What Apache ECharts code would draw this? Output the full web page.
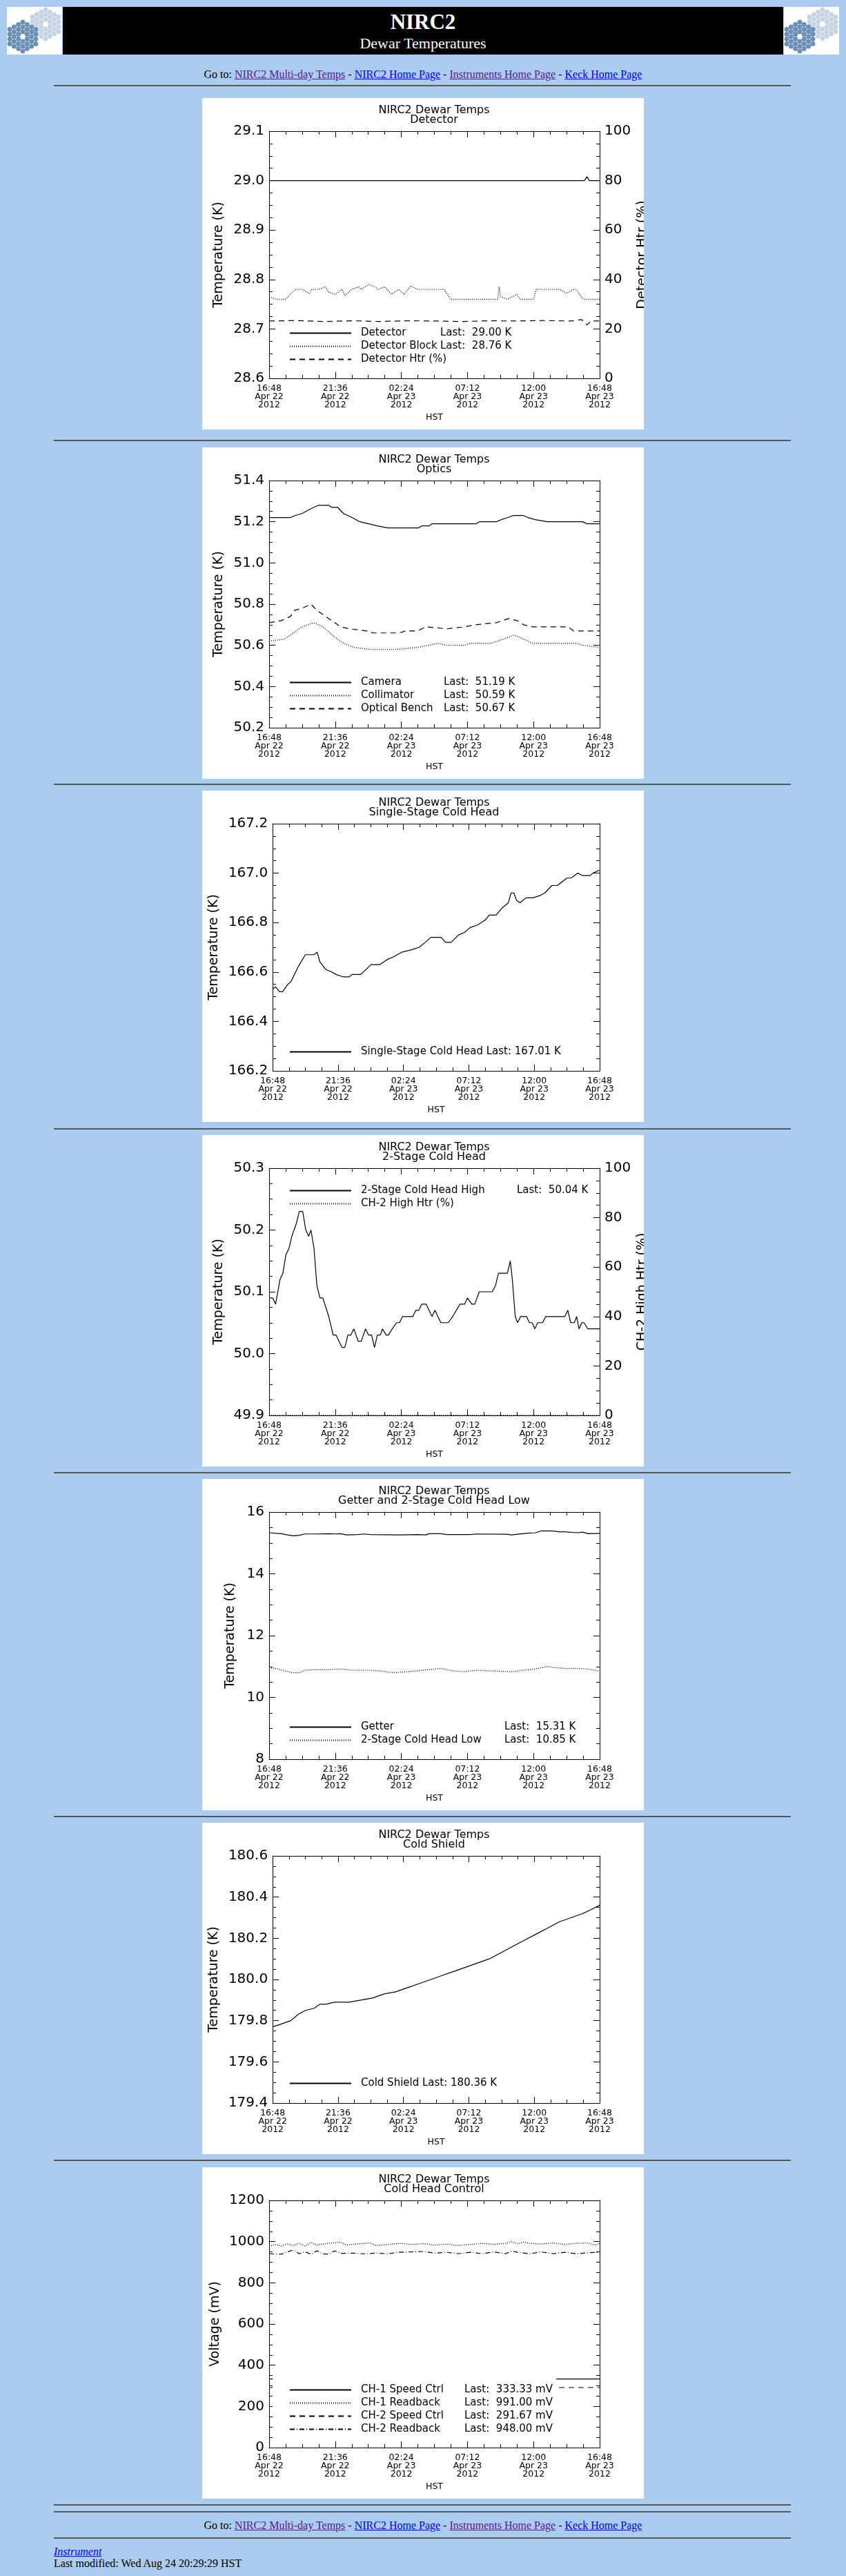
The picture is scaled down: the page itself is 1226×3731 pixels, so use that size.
<!DOCTYPE html>
<html>
<head>
<meta charset="utf-8">
<title>NIRC2 Dewar Temperatures</title>
<script src="https://cdn.jsdelivr.net/npm/echarts@6/dist/echarts.min.js"></script>
<style>
body { margin:0; background:#aaccee; font-family:"Liberation Serif", "Times New Roman", serif; font-size:16px; color:#000; }
#page { position:relative; width:1226px; height:3731px; overflow:hidden; }
.logo { position:absolute; top:10px; width:80px; height:69px; background:#fff; overflow:hidden; }
#bar { position:absolute; left:91px; top:10px; width:1044px; height:69px; background:#000; color:#fff; text-align:center; }
.hr { position:absolute; left:78px; width:1068px; height:0; border-top:2px solid #555; }
.nav { position:absolute; left:0; width:1226px; text-align:center; line-height:20px; }
a { text-decoration:underline; }
a.v { color:#551a8b; }
a.u { color:#0000ee; }
.panel { position:absolute; left:293px; width:640px; height:480px; background:#fff; }
</style>
</head>
<body>
<div id="page">
  <div class="logo" id="logoL" style="left:10px"></div>
  <div id="bar">
    <div style="position:absolute;left:0;top:4px;width:100%;font-size:31px;font-weight:bold;line-height:36px">NIRC2</div>
    <div style="position:absolute;left:0;top:40px;width:100%;font-size:22px;line-height:26px">Dewar Temperatures</div>
  </div>
  <div class="logo" id="logoR" style="left:1136px"></div>

  <div class="nav" style="top:98px">Go to: <a class="v" href="#">NIRC2 Multi-day Temps</a> - <a class="u" href="#">NIRC2 Home Page</a> - <a class="v" href="#">Instruments Home Page</a> - <a class="u" href="#">Keck Home Page</a></div>
  <div class="hr" style="top:123px"></div>

  <div class="panel" id="c1" style="top:142px"></div>
  <div class="hr" style="top:637px"></div>
  <div class="panel" id="c2" style="top:648px"></div>
  <div class="hr" style="top:1135px"></div>
  <div class="panel" id="c3" style="top:1145px"></div>
  <div class="hr" style="top:1634px"></div>
  <div class="panel" id="c4" style="top:1644px"></div>
  <div class="hr" style="top:2132px"></div>
  <div class="panel" id="c5" style="top:2142px"></div>
  <div class="hr" style="top:2630px"></div>
  <div class="panel" id="c6" style="top:2640px"></div>
  <div class="hr" style="top:3128px"></div>
  <div class="panel" id="c7" style="top:3139px"></div>
  <div class="hr" style="top:3627px"></div>
  <div class="hr" style="top:3637px"></div>

  <div class="nav" style="top:3648px">Go to: <a class="v" href="#">NIRC2 Multi-day Temps</a> - <a class="u" href="#">NIRC2 Home Page</a> - <a class="v" href="#">Instruments Home Page</a> - <a class="u" href="#">Keck Home Page</a></div>
  <div class="hr" style="top:3675px"></div>
  <div style="position:absolute;left:78px;top:3686px;line-height:20px"><a class="u" href="#"><i>Instrument</i></a></div>
  <div style="position:absolute;left:78px;top:3703px;line-height:20px">Last modified: Wed Aug 24 20:29:29 HST</div>
</div>

<script>
var FONT = 'DejaVu Sans';

// x axis: hours since 16:48 Apr 22 2012 (HST)
var timeLabels = ['16:48\nApr 22\n2012', '21:36\nApr 22\n2012', '02:24\nApr 23\n2012',
                  '07:12\nApr 23\n2012', '12:00\nApr 23\n2012', '16:48\nApr 23\n2012'];

// Detector
var detTime = [0, 22.9, 23.08, 23.25, 24];
var detVals = [29.00, 29.00, 29.008, 29.00, 29.00];
var blockTime = [0,0.5,1.2,1.7,1.9,2.4,2.9,3.1,3.6,4.1,4.3,4.8,5.3,5.5,6.0,6.5,6.7,7.2,7.7,7.9,8.4,8.9,9.4,9.8,10.3,10.8,12.7,13.2,16.6,16.7,16.8,17.3,18.0,18.2,19.2,19.4,21.1,21.6,22.1,22.3,22.8,24];
var blockVals = [28.765,28.76,28.76,28.775,28.78,28.78,28.772,28.78,28.78,28.785,28.775,28.77,28.78,28.767,28.78,28.785,28.78,28.79,28.785,28.78,28.785,28.77,28.78,28.77,28.787,28.78,28.78,28.76,28.76,28.785,28.765,28.76,28.77,28.76,28.76,28.78,28.78,28.772,28.78,28.78,28.76,28.76];
var htrTime = [0,2,4,6,8,10,12,14,16,18,20,22,22.7,23.07,23.4,24];
var htrVals = [23.2,23.4,23.0,23.3,23.0,23.3,23.2,23.0,23.3,23.2,23.4,23.2,23.8,21.6,23.2,23.2];

// Optics
var camTime = [0,1.54,1.86,2.4,2.94,3.26,3.58,4.33,4.54,4.97,5.4,6.04,6.58,7.22,7.86,8.61,10.86,11.08,11.6,11.83,15.04,15.26,16.5,16.86,17.3,17.7,18.47,18.8,19.33,20.19,22.76,23.08,24];
var camVals = [51.22,51.22,51.23,51.24,51.26,51.27,51.28,51.28,51.27,51.27,51.24,51.22,51.20,51.19,51.18,51.17,51.17,51.18,51.18,51.19,51.19,51.20,51.20,51.21,51.22,51.23,51.23,51.22,51.21,51.20,51.20,51.19,51.19];
var colTime = [0,1.11,1.76,2.4,3.26,3.9,4.76,5.4,6.15,7.33,9.26,10.76,11.6,12.26,12.9,14.2,14.6,16.1,17.0,17.8,18.5,19.1,22.3,22.76,24];
var colVals = [50.62,50.63,50.66,50.69,50.71,50.69,50.64,50.61,50.59,50.58,50.58,50.59,50.60,50.61,50.60,50.60,50.61,50.61,50.63,50.65,50.63,50.61,50.61,50.60,50.59];
var benchTime = [0,0.9,1.54,1.86,2.4,3.04,3.47,4.1,4.76,5.19,5.83,7.1,7.54,9.47,9.9,10.76,11.4,12.9,14.2,15.0,16.5,17.4,18.0,18.47,19.1,21.7,22.1,23.6,24];
var benchVals = [50.71,50.72,50.74,50.77,50.78,50.80,50.77,50.74,50.71,50.69,50.68,50.67,50.66,50.66,50.67,50.67,50.69,50.68,50.69,50.70,50.71,50.73,50.72,50.70,50.69,50.69,50.67,50.67,50.67];

// Single-Stage Cold Head
var sscTime = [0,0.21,0.51,0.73,1.11,1.33,1.86,2.4,3.04,3.26,3.47,3.9,4.33,4.65,5.19,5.61,5.83,6.47,7.22,7.86,8.4,8.83,9.47,10.2,10.76,11.2,11.6,12.36,12.69,13.1,13.65,14.08,14.5,15.04,15.6,15.9,16.4,16.86,17.3,17.5,17.7,17.9,18.15,18.6,19.1,19.65,19.97,20.5,20.9,21.6,21.9,22.4,22.76,23.3,23.5,23.9,24];
var sscVals = [166.53,166.54,166.52,166.52,166.55,166.56,166.62,166.67,166.67,166.68,166.64,166.61,166.60,166.59,166.58,166.58,166.59,166.59,166.63,166.63,166.65,166.66,166.68,166.69,166.70,166.72,166.74,166.74,166.72,166.72,166.75,166.76,166.78,166.79,166.81,166.83,166.83,166.86,166.88,166.92,166.92,166.89,166.88,166.90,166.90,166.91,166.92,166.95,166.95,166.98,166.98,167.00,166.99,166.99,167.00,167.01,167.01];

// 2-Stage Cold Head
var hiTime = [0,0.26,0.47,0.79,1.0,1.22,1.44,1.65,1.97,2.19,2.44,2.66,2.87,3.04,3.26,3.47,3.69,3.9,4.33,4.65,4.86,5.29,5.5,5.72,5.93,6.15,6.47,6.69,7.0,7.22,7.44,7.65,7.86,8.08,8.23,8.5,8.66,8.94,9.26,9.47,9.69,10.44,10.65,10.87,11.08,11.4,11.83,12.04,12.47,13.0,13.33,13.86,14.19,14.4,14.72,14.93,15.26,16.2,16.44,16.65,17.3,17.51,17.66,17.87,18.04,18.26,18.69,18.9,19.1,19.29,19.5,19.86,20.08,21.47,21.69,21.9,22.16,22.33,22.5,22.7,22.86,23.14,24];
var hiVals = [50.09,50.09,50.08,50.12,50.13,50.16,50.17,50.19,50.21,50.23,50.23,50.20,50.19,50.20,50.17,50.11,50.09,50.09,50.06,50.03,50.03,50.01,50.01,50.03,50.03,50.04,50.02,50.02,50.04,50.03,50.03,50.01,50.03,50.03,50.04,50.03,50.03,50.04,50.05,50.05,50.06,50.06,50.07,50.07,50.08,50.08,50.06,50.07,50.05,50.05,50.06,50.08,50.08,50.09,50.08,50.08,50.10,50.10,50.11,50.13,50.13,50.15,50.12,50.06,50.05,50.06,50.06,50.05,50.05,50.04,50.05,50.05,50.06,50.06,50.07,50.05,50.05,50.06,50.04,50.05,50.05,50.04,50.04];
var hiHtrTime = [0, 24];
var hiHtrVals = [0, 0];

// Getter and 2-Stage Cold Head Low
var getTime = [0,0.9,1.33,1.76,2.19,2.61,3.47,4.33,4.76,5.19,5.61,6.47,6.9,7.33,9.47,10.76,11.4,11.61,12.47,12.9,14.6,15.04,17.19,17.6,18.04,18.9,19.33,19.76,20.6,21.04,21.47,22.33,22.76,23.19,24];
var getVals = [15.33,15.30,15.26,15.23,15.25,15.29,15.29,15.30,15.29,15.30,15.26,15.27,15.29,15.27,15.26,15.27,15.26,15.30,15.30,15.27,15.27,15.29,15.28,15.26,15.28,15.32,15.33,15.39,15.39,15.36,15.36,15.33,15.35,15.30,15.31];
var lowTime = [0,0.47,1.11,1.76,2.19,2.61,3.47,4.33,5.19,6.04,7.33,8.19,9.04,9.9,10.76,11.61,12.47,13.33,14.19,15.04,15.9,16.76,17.61,18.47,19.33,20.19,20.61,21.47,22.33,23.19,24];
var lowVals = [10.95,10.94,10.86,10.80,10.80,10.88,10.90,10.90,10.92,10.88,10.88,10.85,10.80,10.83,10.86,10.90,10.94,10.86,10.83,10.88,10.86,10.85,10.83,10.88,10.92,11.00,10.97,10.94,10.94,10.92,10.85];

// Cold Shield
var csTime = [0,0.47,0.9,1.33,1.86,2.4,3.04,3.47,3.9,4.54,5.61,6.47,7.33,8.19,9.04,9.9,10.76,11.61,12.47,13.33,14.19,15.04,15.9,16.76,17.61,18.47,19.33,20.19,21.04,21.9,22.76,23.4,24];
var csVals = [179.77,179.78,179.79,179.80,179.83,179.85,179.86,179.88,179.88,179.89,179.89,179.90,179.91,179.93,179.94,179.96,179.98,180.00,180.02,180.04,180.06,180.08,180.10,180.13,180.16,180.19,180.22,180.25,180.28,180.30,180.32,180.34,180.36];

// Cold Head Control (mV)
var sp1Time = [0, 24];
var sp1Vals = [333.33, 333.33];
var rb1Time = [0,0.47,0.9,1.33,1.76,2.19,2.61,3.04,3.47,3.9,4.33,5.19,5.61,6.47,7.33,7.76,8.61,9.47,10.33,11.19,12.04,12.9,13.76,14.6,15.47,16.33,17.19,17.6,18.04,18.47,18.9,19.76,20.61,21.47,22.33,23.19,23.61,24];
var rb1Vals = [978,986,978,989,981,992,978,997,983,988,992,997,983,989,994,981,986,992,986,990,983,988,981,986,992,986,992,999,990,997,992,988,994,986,992,994,983,991];
var sp2Time = [0, 24];
var sp2Vals = [291.67, 291.67];
var rb2Time = [0,0.9,1.33,1.76,2.19,2.61,3.04,3.47,3.9,4.33,4.76,5.19,6.04,6.9,7.76,8.61,9.47,10.33,11.19,12.04,12.9,13.76,14.6,15.47,16.33,17.19,17.6,18.04,18.9,19.76,20.61,21.47,22.33,23.19,24];
var rb2Vals = [941,939,950,959,941,950,939,955,941,939,955,943,944,941,944,941,948,950,952,944,948,941,948,941,950,941,955,948,941,950,941,948,941,946,948];

var SOLID = 'solid', DOT = [1, 2], DASH = [8, 6], DASHDOT = [7, 3, 1, 3];

function pts(t, v) {
    return t.map(function (h, i) { return [h * 60, v[i]]; });
}

function logoSvg() {
    var s = '<svg width="80" height="69" xmlns="http://www.w3.org/2000/svg">';
    [[56, 25, '#c5d4e3'], [23, 43, '#6b8fb5']].forEach(function (c) {
        for (var q = -3; q <= 3; q++) {
            for (var r = -3; r <= 3; r++) {
                var d = Math.max(Math.abs(q), Math.abs(r), Math.abs(q + r));
                if (d < 1 || d > 3) continue;
                var x = c[0] + q * 6.3, y = c[1] + (r + q / 2) * 7;
                s += '<circle cx="' + x + '" cy="' + y + '" r="3.5" fill="' + c[2] + '"/>';
            }
        }
    });
    return s + '</svg>';
}
document.getElementById('logoL').innerHTML = logoSvg();
document.getElementById('logoR').innerHTML = logoSvg();

function yAxisOpt(min, max, step, dec, pos, showLabel, name, gap) {
    return {
        type: 'value', min: min, max: max, interval: step, position: pos,
        name: name || '', nameLocation: 'middle', nameGap: gap || 0, nameRotate: 90,
        nameTextStyle: { fontFamily: FONT, fontSize: 19, color: '#000' },
        axisLine: { show: true, onZero: false, lineStyle: { color: '#000', width: 1 } },
        axisTick: { show: true, inside: true, length: 9, lineStyle: { color: '#000' } },
        minorTick: { show: true, splitNumber: 4, length: 5, lineStyle: { color: '#000' } },
        axisLabel: {
            show: showLabel, fontFamily: FONT, fontSize: 20, color: '#000', margin: 7,
            formatter: function (v) { return v.toFixed(dec); }
        },
        splitLine: { show: false }
    };
}

function xAxisOpt(pos, showLabel) {
    return {
        type: 'value', min: 0, max: 1440, interval: 288, position: pos,
        name: showLabel ? 'HST' : '', nameLocation: 'middle', nameGap: 49,
        nameTextStyle: { fontFamily: FONT, fontSize: 12.5, color: '#000' },
        axisLine: { show: true, onZero: false, lineStyle: { color: '#000', width: 1 } },
        axisTick: { show: true, inside: true, length: 9, lineStyle: { color: '#000' } },
        minorTick: { show: true, splitNumber: 4, length: 5, lineStyle: { color: '#000' } },
        axisLabel: {
            show: showLabel, fontFamily: FONT, fontSize: 12.5, lineHeight: 12, color: '#000', margin: 9,
            formatter: function (v) { return timeLabels[Math.round(v / 288)]; }
        },
        splitLine: { show: false }
    };
}

function makeChart(id, c) {
    var chart = echarts.init(document.getElementById(id), null, { renderer: 'canvas' });
    var yAxes = [yAxisOpt(c.yMin, c.yMax, c.yStep, c.yDec, 'left', true, c.yName, c.nameGap)];
    var graphic = [];
    if (c.right) {
        yAxes.push(yAxisOpt(0, 100, 20, 0, 'right', true));
        // right-hand axis title, cut off by the image edge as in the original plot
        graphic.push({
            type: 'text', x: 638, y: 227, rotation: Math.PI / 2, silent: true,
            style: {
                text: c.right, fontFamily: FONT, fontSize: 19, fill: '#000',
                align: 'center', verticalAlign: 'middle', textAlign: 'center', textVerticalAlign: 'middle'
            }
        });
    } else {
        yAxes.push(yAxisOpt(c.yMin, c.yMax, c.yStep, c.yDec, 'right', false));
    }
    var rich = {
        n: { fontFamily: FONT, fontSize: 15, color: '#000' },
        l: { fontFamily: FONT, fontSize: 15, color: '#000' }
    };
    if (c.nameWidth) rich.n.width = c.nameWidth;
    if (c.lastWidth) rich.l.width = c.lastWidth;
    var legend = {
        orient: 'vertical', align: 'left', left: 126, top: c.legendTop,
        itemWidth: 89, itemHeight: 14, itemGap: 4, padding: 0, selectedMode: false,
        itemStyle: { opacity: 0, borderWidth: 0 },
        textStyle: { fontFamily: FONT, fontSize: 15, color: '#000', padding: [0, 0, 0, 9], rich: rich },
        formatter: function (name) {
            var last = c.last[name];
            if (!last) return name;
            if (!c.nameWidth) return name + ' ' + last;
            return '{n|' + name + '}{l|' + last + '}';
        }
    };
    if (c.legendBox) {
        legend.backgroundColor = '#fff';
        legend.padding = [15, 5, 9, 24];
        legend.left = 102;
        legend.top = c.legendTop - 15;
    }
    var option = {
        animation: false,
        title: {
            text: 'NIRC2 Dewar Temps\n' + c.sub, left: 336, top: 11, textAlign: 'center', padding: 0,
            textStyle: { fontFamily: FONT, fontSize: 16, fontWeight: 'normal', lineHeight: 14, color: '#000' }
        },
        grid: { left: 97, right: 64, top: 48, bottom: 74 },
        legend: legend,
        graphic: graphic,
        xAxis: [xAxisOpt('bottom', true), xAxisOpt('top', false)],
        yAxis: yAxes,
        series: c.series.map(function (s) {
            return {
                type: 'line', name: s.name, data: pts(s.t, s.v),
                xAxisIndex: 0, yAxisIndex: s.right ? 1 : 0,
                symbol: 'none', silent: true, color: '#000',
                lineStyle: { color: '#000', width: s.style === DOT ? 1.4 : 1.2, type: s.style }
            };
        })
    };
    chart.setOption(option);
}

makeChart('c1', {
    sub: 'Detector', yMin: 28.6, yMax: 29.1, yStep: 0.1, yDec: 1, yName: 'Temperature (K)', nameGap: 63,
    right: 'Detector Htr (%)', legendTop: 333, nameWidth: 115,
    last: { 'Detector': 'Last:  29.00 K', 'Detector Block': 'Last:  28.76 K' },
    series: [
        { name: 'Detector', t: detTime, v: detVals, style: SOLID },
        { name: 'Detector Block', t: blockTime, v: blockVals, style: DOT },
        { name: 'Detector Htr (%)', t: htrTime, v: htrVals, style: DASH, right: true }
    ]
});

makeChart('c2', {
    sub: 'Optics', yMin: 50.2, yMax: 51.4, yStep: 0.2, yDec: 1, yName: 'Temperature (K)', nameGap: 63,
    legendTop: 333, nameWidth: 120,
    last: { 'Camera': 'Last:  51.19 K', 'Collimator': 'Last:  50.59 K', 'Optical Bench': 'Last:  50.67 K' },
    series: [
        { name: 'Camera', t: camTime, v: camVals, style: SOLID },
        { name: 'Collimator', t: colTime, v: colVals, style: DOT },
        { name: 'Optical Bench', t: benchTime, v: benchVals, style: DASH }
    ]
});

makeChart('c3', {
    sub: 'Single-Stage Cold Head', yMin: 166.2, yMax: 167.2, yStep: 0.2, yDec: 1, yName: 'Temperature (K)', nameGap: 75,
    legendTop: 371,
    last: { 'Single-Stage Cold Head': 'Last: 167.01 K' },
    series: [
        { name: 'Single-Stage Cold Head', t: sscTime, v: sscVals, style: SOLID }
    ]
});

makeChart('c4', {
    sub: '2-Stage Cold Head', yMin: 49.9, yMax: 50.3, yStep: 0.1, yDec: 1, yName: 'Temperature (K)', nameGap: 63,
    right: 'CH-2 High Htr (%)', legendTop: 73, nameWidth: 226,
    last: { '2-Stage Cold Head High': 'Last:  50.04 K' },
    series: [
        { name: '2-Stage Cold Head High', t: hiTime, v: hiVals, style: SOLID },
        { name: 'CH-2 High Htr (%)', t: hiHtrTime, v: hiHtrVals, style: DOT, right: true }
    ]
});

makeChart('c5', {
    sub: 'Getter and 2-Stage Cold Head Low', yMin: 8, yMax: 16, yStep: 2, yDec: 0, yName: 'Temperature (K)', nameGap: 46,
    legendTop: 352, nameWidth: 208,
    last: { 'Getter': 'Last:  15.31 K', '2-Stage Cold Head Low': 'Last:  10.85 K' },
    series: [
        { name: 'Getter', t: getTime, v: getVals, style: SOLID },
        { name: '2-Stage Cold Head Low', t: lowTime, v: lowVals, style: DOT }
    ]
});

makeChart('c6', {
    sub: 'Cold Shield', yMin: 179.4, yMax: 180.6, yStep: 0.2, yDec: 1, yName: 'Temperature (K)', nameGap: 75,
    legendTop: 370,
    last: { 'Cold Shield': 'Last: 180.36 K' },
    series: [
        { name: 'Cold Shield', t: csTime, v: csVals, style: SOLID }
    ]
});

makeChart('c7', {
    sub: 'Cold Head Control', yMin: 0, yMax: 1200, yStep: 200, yDec: 0, yName: 'Voltage (mV)', nameGap: 67,
    legendTop: 315, nameWidth: 150, lastWidth: 147, legendBox: true,
    last: {
        'CH-1 Speed Ctrl': 'Last:  333.33 mV', 'CH-1 Readback': 'Last:  991.00 mV',
        'CH-2 Speed Ctrl': 'Last:  291.67 mV', 'CH-2 Readback': 'Last:  948.00 mV'
    },
    series: [
        { name: 'CH-1 Speed Ctrl', t: sp1Time, v: sp1Vals, style: SOLID },
        { name: 'CH-1 Readback', t: rb1Time, v: rb1Vals, style: DOT },
        { name: 'CH-2 Speed Ctrl', t: sp2Time, v: sp2Vals, style: DASH },
        { name: 'CH-2 Readback', t: rb2Time, v: rb2Vals, style: DASHDOT }
    ]
});
</script>
</body>
</html>
